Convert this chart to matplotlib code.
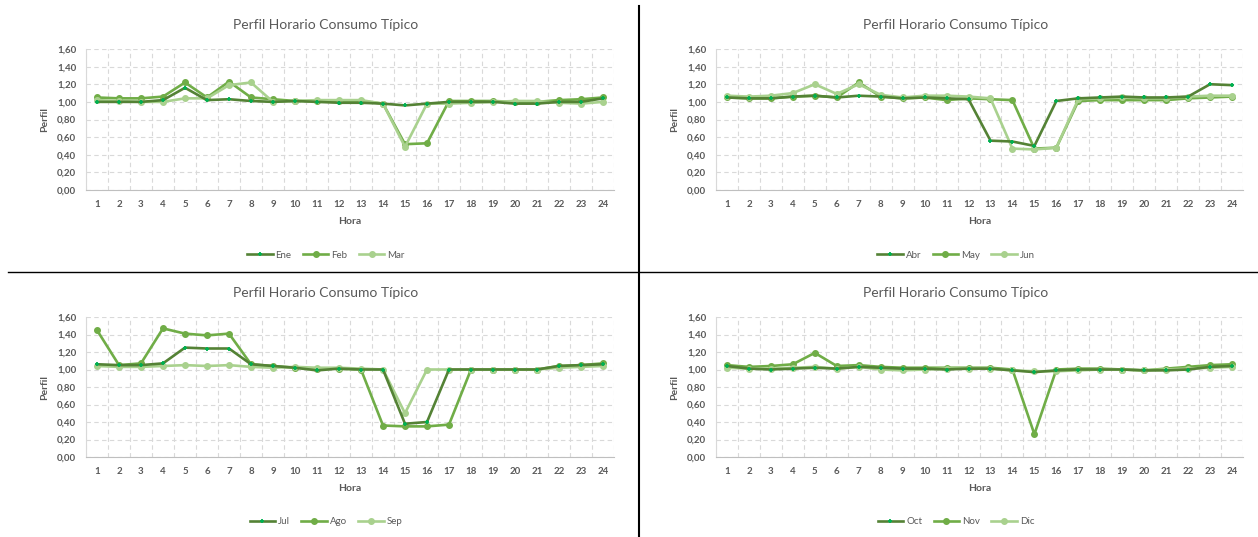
import numpy as np
import matplotlib.pyplot as plt
from matplotlib.lines import Line2D

horas = list(range(1, 25))

# Ene - Feb - Mar
ene = [1.00, 1.00, 1.00, 1.02, 1.16, 1.02, 1.03, 1.01, 1.00, 1.01, 1.00, 0.99,
       0.99, 0.98, 0.96, 0.98, 1.00, 1.00, 1.00, 0.98, 0.98, 1.00, 1.00, 1.04]
feb = [1.05, 1.04, 1.04, 1.06, 1.22, 1.05, 1.23, 1.05, 1.03, 1.01, 1.01, 1.01,
       1.01, 0.98, 0.52, 0.53, 1.01, 1.01, 1.01, 1.00, 1.00, 1.02, 1.03, 1.05]
mar = [1.02, 1.01, 1.00, 1.00, 1.04, 1.04, 1.19, 1.22, 1.00, 1.01, 1.02, 1.02,
       1.02, 0.98, 0.49, 0.98, 0.98, 0.99, 1.00, 1.01, 1.01, 0.99, 0.98, 1.00]

# Abr - May - Jun
abr = [1.05, 1.04, 1.04, 1.06, 1.07, 1.05, 1.07, 1.06, 1.04, 1.05, 1.04, 1.03,
       0.56, 0.55, 0.50, 1.01, 1.04, 1.05, 1.06, 1.05, 1.05, 1.06, 1.20, 1.19]
may = [1.05, 1.04, 1.04, 1.06, 1.07, 1.05, 1.22, 1.06, 1.04, 1.05, 1.02, 1.04,
       1.03, 1.02, 0.47, 0.48, 1.01, 1.02, 1.02, 1.02, 1.02, 1.04, 1.05, 1.06]
jun = [1.07, 1.06, 1.07, 1.10, 1.20, 1.09, 1.20, 1.08, 1.05, 1.07, 1.07, 1.06,
       1.04, 0.47, 0.46, 0.48, 1.03, 1.04, 1.05, 1.04, 1.04, 1.06, 1.07, 1.07]

# Jul - Ago - Sep
jul = [1.06, 1.05, 1.05, 1.07, 1.25, 1.24, 1.24, 1.06, 1.04, 1.02, 0.99, 1.01,
       1.00, 1.00, 0.38, 0.40, 1.00, 1.00, 1.00, 1.00, 1.00, 1.04, 1.05, 1.06]
ago = [1.45, 1.05, 1.07, 1.47, 1.41, 1.39, 1.41, 1.06, 1.04, 1.02, 1.01, 1.01,
       1.00, 0.36, 0.35, 0.35, 0.37, 1.00, 1.00, 1.00, 1.00, 1.04, 1.05, 1.07]
sep = [1.04, 1.03, 1.03, 1.04, 1.05, 1.04, 1.05, 1.03, 1.02, 1.03, 1.02, 1.02,
       1.01, 1.00, 0.50, 1.00, 1.00, 1.00, 1.00, 1.00, 1.00, 1.02, 1.03, 1.04]

# Oct - Nov - Dic
oct_ = [1.04, 1.01, 1.00, 1.01, 1.02, 1.01, 1.03, 1.02, 1.01, 1.01, 1.00, 1.01,
        1.01, 0.99, 0.97, 0.99, 1.00, 1.00, 1.00, 0.99, 0.99, 1.00, 1.03, 1.04]
nov = [1.05, 1.03, 1.04, 1.06, 1.19, 1.04, 1.05, 1.03, 1.02, 1.02, 1.02, 1.02,
       1.02, 1.00, 0.26, 1.00, 1.01, 1.01, 1.00, 0.99, 1.01, 1.03, 1.05, 1.06]
dic = [1.02, 1.01, 1.01, 1.02, 1.03, 1.01, 1.03, 1.00, 0.99, 1.00, 1.01, 1.01,
       1.01, 0.99, 0.98, 0.98, 0.99, 1.00, 1.00, 0.99, 1.00, 1.01, 1.02, 1.03]

paneles = [
    (["Ene", "Feb", "Mar"], [ene, feb, mar]),
    (["Abr", "May", "Jun"], [abr, may, jun]),
    (["Jul", "Ago", "Sep"], [jul, ago, sep]),
    (["Oct", "Nov", "Dic"], [oct_, nov, dic]),
]

titulo = "Perfil Horario Consumo Típico"
colores = ["#548235", "#70AD47", "#A9D18E"]
gris = "#595959"

plt.rcParams['font.family'] = ['Lato', 'DejaVu Sans']

W, H = 1258, 537
fig = plt.figure(figsize=(W / 100, H / 100), dpi=100)

# posiciones en pixeles: (x izq, x der, y sup, y inf, centro del grafico, y titulo, y leyenda)
cajas = [
    (86, 614, 49, 190, 326, 25, 255),
    (716, 1243, 49, 190, 956, 25, 255),
    (86, 614, 317, 457, 326, 293, 522),
    (716, 1243, 317, 457, 956, 293, 522),
]


def dibujar(caja, nombres, series):
    x0, x1, y0, y1, cx, ty, ly = caja
    ax = fig.add_axes([x0 / W, 1 - y1 / H, (x1 - x0) / W, (y1 - y0) / H])
    for i, (nom, s) in enumerate(zip(nombres, series)):
        if i == 0:
            ax.plot(horas, s, color=colores[i], lw=1.9, marker='+', ms=3,
                    mec="#00B050", mew=1.3, label=nom, zorder=4)
        else:
            ax.plot(horas, s, color=colores[i], lw=1.9, marker='o', ms=4,
                    mfc=colores[i], mec=colores[i], label=nom, zorder=3)
    ax.set_xlim(0.5, 24.5)
    ax.set_ylim(0, 1.6)
    ax.set_yticks(np.arange(0, 1.61, 0.2))
    ax.set_yticklabels([f"{v:.2f}".replace(".", ",") for v in np.arange(0, 1.61, 0.2)])
    ax.set_xticks(horas)
    ax.set_xticks(np.arange(0.5, 24.6, 1), minor=True)
    ax.tick_params(axis='both', length=0, labelsize=7, labelcolor=gris, pad=7)
    ax.tick_params(axis='x', which='minor', length=0)
    for lab in ax.get_xticklabels() + ax.get_yticklabels():
        lab.set_fontweight('bold')
    ax.grid(True, axis='y', which='major', ls=(0, (4, 3)), color="#D9D9D9", lw=0.8)
    ax.grid(True, axis='x', which='minor', ls=(0, (4, 3)), color="#D9D9D9", lw=0.8)
    for lado in ['top', 'right']:
        ax.spines[lado].set_visible(False)
    ax.spines['left'].set_color("#D9D9D9")
    ax.spines['bottom'].set_color("#BFBFBF")
    ax.set_ylabel("Perfil", fontsize=7.5, fontweight='bold', color=gris, labelpad=6)
    ax.set_xlabel("Hora", fontsize=7.5, fontweight='bold', color=gris, labelpad=6)
    fig.text(cx / W, 1 - ty / H, titulo, ha='center', va='center', fontsize=10, color=gris)
    fig.legend(*ax.get_legend_handles_labels(), loc='center', bbox_to_anchor=(cx / W, 1 - ly / H),
               ncol=3, frameon=False, fontsize=7, labelcolor=gris, handlelength=2.6,
               columnspacing=1.2, handletextpad=0.3)


for caja, (nombres, series) in zip(cajas, paneles):
    dibujar(caja, nombres, series)

# separadores entre graficos
fig.add_artist(Line2D([8 / W, 1], [1 - 272 / H, 1 - 272 / H], color='black', lw=1.0))
fig.add_artist(Line2D([639 / W, 639 / W], [0, 1 - 6 / H], color='black', lw=1.5))

fig.savefig("out.png", dpi=100)
